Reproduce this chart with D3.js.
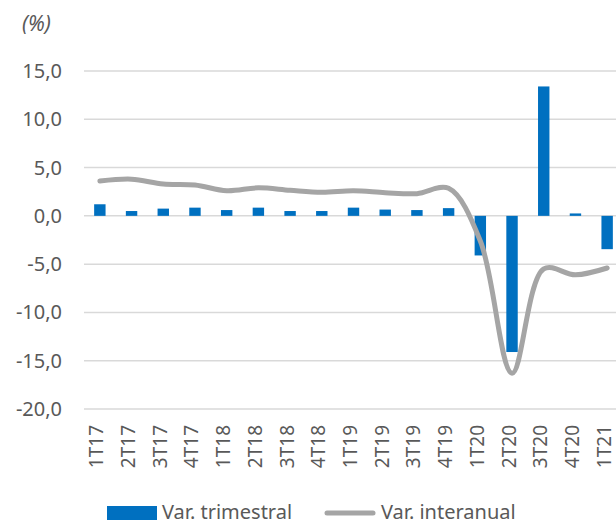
<!DOCTYPE html>
<html>
<head>
<meta charset="utf-8">
<script src="https://cdn.jsdelivr.net/npm/d3@7"></script>
<style>
  body { margin: 0; background: #fff; }
  text { font-family: "Noto Sans", sans-serif; fill: #595959; }
</style>
</head>
<body>
<div id="chart"></div>
<script>
const quarters = ["1T17", "2T17", "3T17", "4T17", "1T18", "2T18", "3T18", "4T18",
  "1T19", "2T19", "3T19", "4T19", "1T20", "2T20", "3T20", "4T20", "1T21"];
const varTrimestral = [1.2, 0.5, 0.75, 0.85, 0.6, 0.85, 0.5, 0.5,
  0.85, 0.65, 0.6, 0.8, -4.1, -14.1, 13.4, 0.25, -3.45];
const varInteranual = [3.6, 3.8, 3.3, 3.2, 2.6, 2.9, 2.65, 2.45,
  2.6, 2.4, 2.3, 2.85, -2.6, -16.3, -5.5, -6.1, -5.4];
const yTicks = [-20, -15, -10, -5, 0, 5, 10, 15];

const width = 616;
const height = 524;
const margin = { left: 84, right: -7, top: 71, bottom: 115 };

const svg = d3.select("#chart").append("svg")
  .attr("width", width)
  .attr("height", height);

const x = d3.scaleBand()
  .domain(quarters)
  .range([margin.left, width - margin.right])
  .paddingInner(0.64)
  .paddingOuter(0.32);

const y = d3.scaleLinear()
  .domain([-20, 15])
  .range([height - margin.bottom, margin.top]);

const fmt = (v) => d3.format(".1f")(v).replace(".", ",").replace("−", "-");

// gridlines
svg.append("g")
  .selectAll("line")
  .data(yTicks)
  .join("line")
  .attr("x1", margin.left)
  .attr("x2", width)
  .attr("y1", (d) => y(d))
  .attr("y2", (d) => y(d))
  .attr("stroke", "#d9d9d9")
  .attr("stroke-width", 1.5);

// y labels
svg.append("g")
  .selectAll("text")
  .data(yTicks)
  .join("text")
  .attr("x", 62)
  .attr("y", (d) => y(d))
  .attr("dy", "0.35em")
  .attr("text-anchor", "end")
  .style("font-size", "20px")
  .text(fmt);

svg.append("text")
  .attr("x", 22)
  .attr("y", 31)
  .style("font-size", "21px")
  .style("font-style", "italic")
  .text("(%)");

// bars
svg.append("g")
  .selectAll("rect")
  .data(quarters)
  .join("rect")
  .attr("x", (d) => x(d))
  .attr("width", x.bandwidth())
  .attr("y", (d, i) => y(Math.max(0, varTrimestral[i])))
  .attr("height", (d, i) => Math.abs(y(varTrimestral[i]) - y(0)))
  .attr("fill", "#0070c0");

// line
const line = d3.line()
  .x((d, i) => x(quarters[i]) + x.bandwidth() / 2)
  .y((d) => y(d))
  .curve(d3.curveCatmullRom.alpha(0.5));

svg.append("path")
  .datum(varInteranual)
  .attr("d", line)
  .attr("fill", "none")
  .attr("stroke", "#a5a5a5")
  .attr("stroke-width", 5)
  .attr("stroke-linecap", "round");

// x labels
svg.append("g")
  .selectAll("text")
  .data(quarters)
  .join("text")
  .attr("transform", (d) => `translate(${x(d) + x.bandwidth() / 2 + 3.5}, 425) rotate(-90)`)
  .attr("text-anchor", "end")
  .style("font-size", "19px")
  .text((d) => d);

// legend
const legend = svg.append("g");
legend.append("rect")
  .attr("x", 107).attr("y", 506).attr("width", 50).attr("height", 14)
  .attr("fill", "#0070c0");
legend.append("text")
  .attr("x", 162).attr("y", 519)
  .style("font-size", "20px")
  .text("Var. trimestral");
legend.append("line")
  .attr("x1", 327).attr("x2", 373).attr("y1", 513).attr("y2", 513)
  .attr("stroke", "#a5a5a5").attr("stroke-width", 5).attr("stroke-linecap", "round");
legend.append("text")
  .attr("x", 381).attr("y", 519)
  .style("font-size", "20px")
  .text("Var. interanual");
</script>
</body>
</html>
